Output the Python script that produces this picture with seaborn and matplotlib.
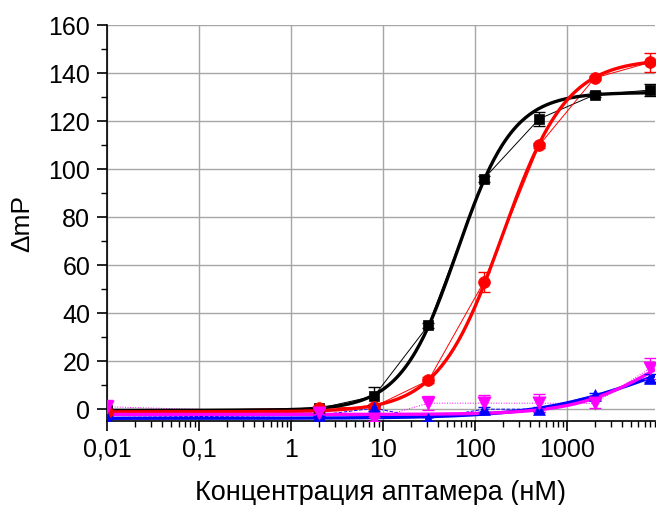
import numpy as np
import pandas as pd
import matplotlib
matplotlib.use("Agg")
import matplotlib.pyplot as plt
import matplotlib.ticker as mticker
import seaborn as sns

# Aptamer concentration (nM); the blank sample is placed at 0.01 on the log axis
conc = [0.01, 2, 8, 31.25, 125, 500, 2000, 8000]

# Mean ΔmP and standard deviation for each aptamer
black_mp = [-0.5, 0.3, 5.4, 35, 96, 121, 131, 133]
black_sd = [0.5, 1.0, 3.8, 1.0, 1.2, 3.0, 1.0, 2.5]
red_mp = [-1.0, 0.4, 1.0, 12, 53, 110, 138, 144.5]
red_sd = [0.5, 1.0, 1.0, 1.2, 4.0, 1.0, 1.0, 4.0]
blue_mp = [-3.5, -2.5, 0.4, -4.0, 0.0, 0.0, 5.8, 13]
blue_sd = [0.5, 0.5, 1.0, 0.8, 1.0, 1.0, 1.0, 1.5]
magenta_mp = [1.0, -1.5, -4.0, 2.5, 2.5, 2.5, 2.4, 17]
magenta_sd = [3.0, 0.5, 0.8, 3.0, 3.5, 3.8, 2.0, 4.5]

# Hill fit parameters: bottom, top, EC50 (nM), Hill slope
fit_black = [-0.5, 132, 64, 1.43]
fit_red = [-1.1, 146, 199, 1.25]
fit_blue = [-3.8, 30, 8000, 0.7]
fit_magenta = [-2.2, 35, 9000, 1.0]

series = [
    ("black", black_mp, black_sd, fit_black, "#000000", "s", 7.5, "-"),
    ("red", red_mp, red_sd, fit_red, "#ff0000", "o", 8.5, "-"),
    ("blue", blue_mp, blue_sd, fit_blue, "#0000ff", "^", 8.5, "--"),
    ("magenta", magenta_mp, magenta_sd, fit_magenta, "#ff00ff", "v", 9.5, ":"),
]

sns.set_theme(style="ticks")
plt.rcParams["font.family"] = ["Liberation Sans", "DejaVu Sans"]

fig = plt.figure(figsize=(6.56, 5.05), dpi=100)
ax = fig.add_axes([0.163, 0.166, 0.835, 0.784])

xs = np.logspace(-2, np.log10(9000), 400)


def hill(x, p):
    b, t, ec, n = p
    return b + (t - b) / (1.0 + (ec / x) ** n)


for name, mp, sd, fit, col, mk, ms, ls in series:
    df = pd.DataFrame({"conc": conc, "mp": mp})
    # thin line through the measured means
    sns.lineplot(data=df, x="conc", y="mp", ax=ax, color=col, lw=0.7,
                 linestyle=ls, zorder=2, legend=False)
    # fitted dose-response curve
    fdf = pd.DataFrame({"conc": xs, "mp": hill(xs, fit)})
    sns.lineplot(data=fdf, x="conc", y="mp", ax=ax, color=col, lw=2.4,
                 zorder=3, legend=False)
    ax.errorbar(conc, mp, yerr=sd, fmt="none", ecolor=col, elinewidth=1.0,
                capsize=4, capthick=1.0, zorder=4)
    sns.scatterplot(data=df, x="conc", y="mp", ax=ax, color=col, marker=mk,
                    s=ms ** 2, edgecolor=col, linewidth=0.5, zorder=5,
                    legend=False)

ax.set_xscale("log")
ax.set_xlim(0.01, 9000)
ax.set_ylim(-5, 160)

ax.xaxis.set_major_locator(mticker.FixedLocator([0.01, 0.1, 1, 10, 100, 1000]))
ax.xaxis.set_major_formatter(mticker.FixedFormatter(["0,01", "0,1", "1", "10", "100", "1000"]))
ax.xaxis.set_minor_locator(mticker.LogLocator(base=10, subs=np.arange(2, 10), numticks=20))
ax.xaxis.set_minor_formatter(mticker.NullFormatter())
ax.yaxis.set_major_locator(mticker.MultipleLocator(20))
ax.yaxis.set_minor_locator(mticker.MultipleLocator(10))

ax.grid(True, which="major", color="#a6a6a6", lw=1.0)
ax.set_axisbelow(True)
for s in ["top", "right"]:
    ax.spines[s].set_visible(False)
for s in ["left", "bottom"]:
    ax.spines[s].set_color("black")
    ax.spines[s].set_linewidth(1.2)

ax.tick_params(axis="both", which="major", direction="out", length=7, width=1.2,
               labelsize=18, colors="black", pad=5)
ax.tick_params(axis="both", which="minor", direction="out", length=4, width=1.0,
               colors="black")

ax.set_xlabel("Концентрация аптамера (нМ)", fontsize=19.5, labelpad=13, color="black")
ax.set_ylabel("ΔmP", fontsize=19, labelpad=10, color="black")

fig.savefig("out.png", dpi=100)
